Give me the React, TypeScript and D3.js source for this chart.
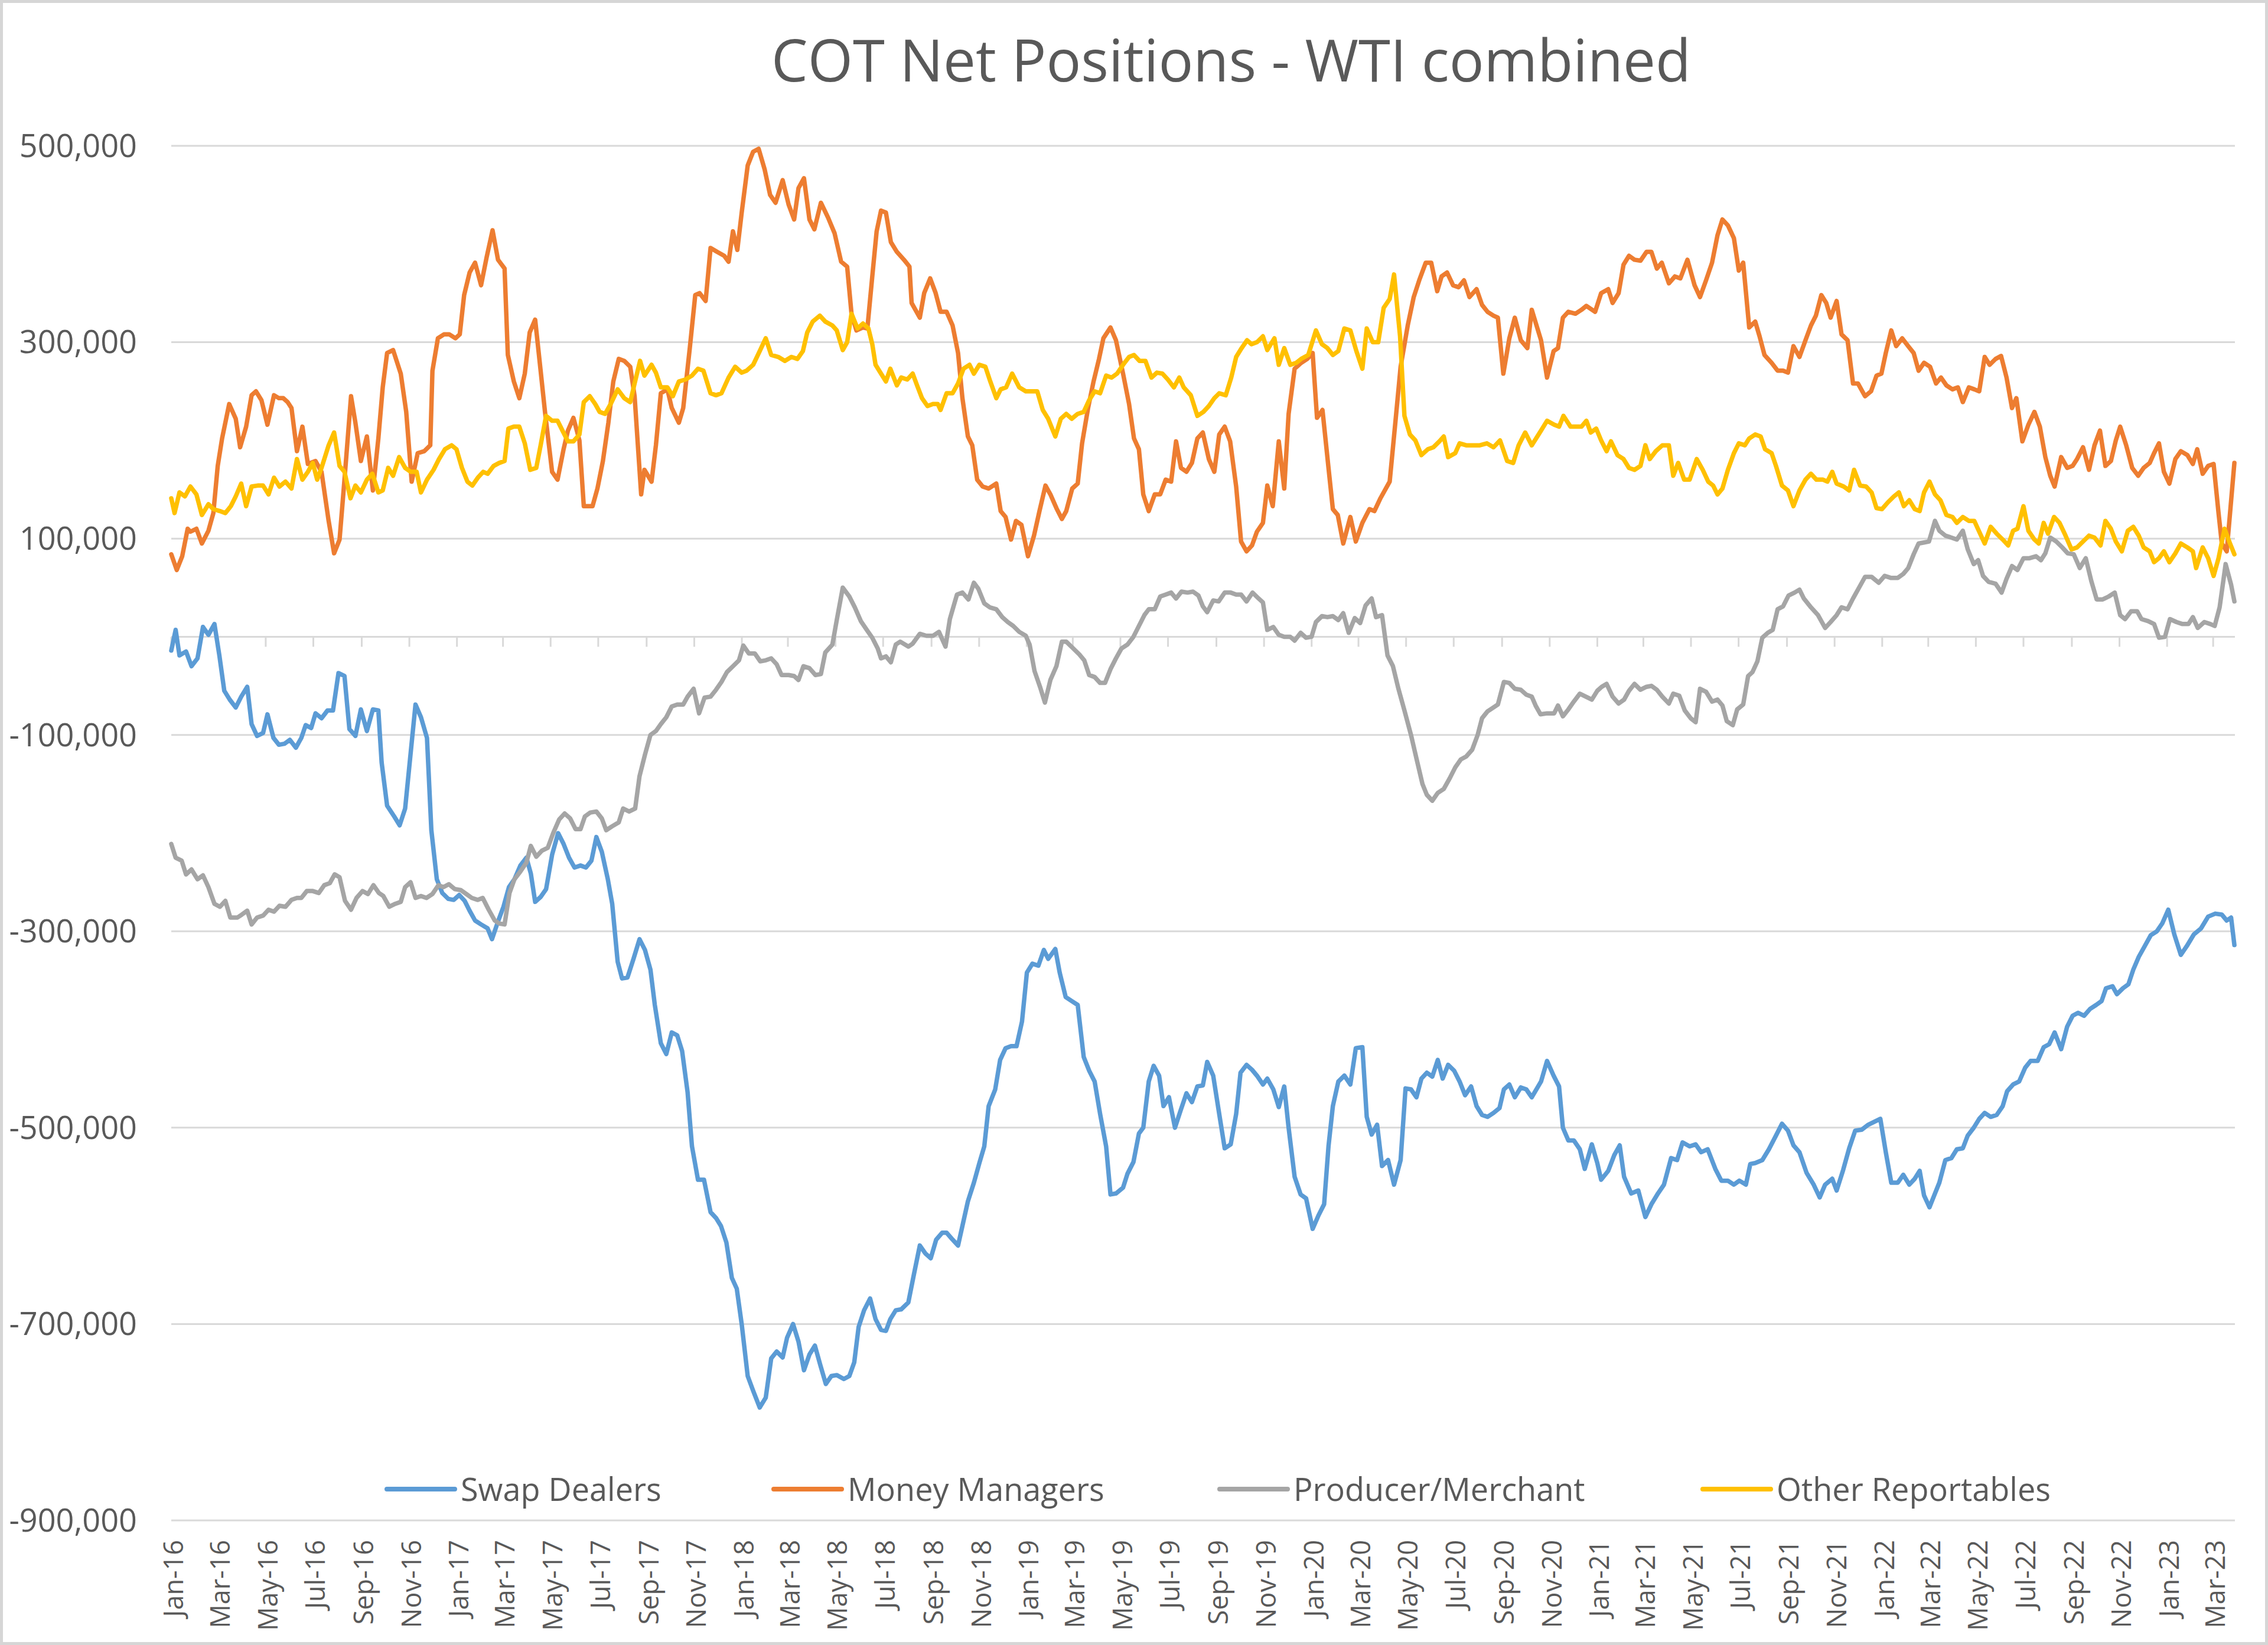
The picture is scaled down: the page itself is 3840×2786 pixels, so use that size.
import React from 'react';
import * as d3 from 'd3';

// ---- Data (values in thousands of contracts, x = weeks since 2016-01-05) ----
const seriesNames = ['Swap Dealers', 'Money Managers', 'Producer/Merchant', 'Other Reportables'];
const seriesColors = ['#5B9BD5', '#ED7D31', '#A5A5A5', '#FFC000'];

const swapDealers: [number, number][] = [[0,-14],[0.8,7],[1.5,-19],[2.7,-15],[3.7,-30],[4.8,-22],[5.8,10],[6.8,2],[7.9,13],[8.8,-19],[9.7,-55],[10.7,-64],[11.8,-72],[12.8,-61],[13.9,-51],[14.7,-89],[15.7,-101],[16.8,-98],[17.6,-79],[18.7,-103],[19.7,-110],[20.7,-109],[21.7,-105],[22.8,-113],[23.8,-103],[24.6,-90],[25.6,-93],[26.4,-78],[27.5,-83],[28.6,-75],[29.6,-75],[30.6,-37],[31.7,-40],[32.6,-94],[33.7,-101],[34.7,-74],[35.8,-96],[36.9,-74],[37.9,-75],[38.5,-128],[39.5,-172],[40.8,-183],[41.8,-192],[42.8,-175],[43.8,-119],[44.7,-69],[45.7,-82],[46.8,-103],[47.6,-197],[48.6,-247],[49.6,-261],[50.7,-267],[51.7,-268],[52.7,-263],[53.7,-269],[54.6,-279],[55.6,-289],[56.7,-293],[57.9,-297],[58.7,-308],[59.8,-290],[60.8,-275],[61.8,-255],[62.8,-247],[63.9,-233],[65,-225],[65.8,-241],[66.6,-270],[67.6,-265],[68.6,-257],[69.7,-222],[70.8,-200],[71.8,-211],[72.8,-225],[73.8,-235],[74.9,-233],[75.9,-235],[76.9,-228],[77.8,-204],[78.8,-219],[79.9,-247],[80.7,-272],[81.7,-331],[82.5,-348],[83.5,-347],[84.6,-328],[85.7,-308],[86.7,-319],[87.7,-339],[88.5,-375],[89.6,-414],[90.6,-425],[91.6,-403],[92.6,-406],[93.5,-422],[94.5,-464],[95.3,-519],[96.4,-553],[97.5,-553],[98.7,-586],[99.7,-592],[100.6,-600],[101.6,-617],[102.6,-653],[103.5,-664],[104.4,-700],[105.5,-753],[106.5,-768],[107.7,-785],[108.8,-775],[109.8,-735],[110.8,-728],[111.9,-734],[112.7,-714],[113.8,-700],[114.8,-718],[115.8,-747],[116.8,-731],[117.8,-722],[118.8,-742],[119.8,-761],[120.8,-753],[121.8,-752],[123.1,-756],[124.1,-753],[125,-739],[125.8,-703],[126.8,-686],[127.9,-674],[128.9,-695],[129.9,-706],[130.8,-707],[131.6,-695],[132.6,-686],[133.6,-685],[134.9,-678],[135.9,-650],[137,-620],[138,-628],[139,-633],[140,-614],[141.1,-607],[141.9,-607],[143,-614],[144,-620],[144.8,-600],[145.8,-575],[146.9,-556],[147.9,-536],[148.8,-519],[149.6,-478],[150.8,-461],[151.7,-431],[152.7,-419],[153.7,-417],[154.7,-417],[155.7,-392],[156.6,-342],[157.6,-333],[158.7,-335],[159.7,-319],[160.5,-328],[161.8,-318],[162.6,-342],[163.7,-367],[164.8,-371],[165.9,-375],[167,-428],[168,-442],[169,-453],[170,-486],[171.1,-519],[171.9,-568],[172.9,-567],[174.2,-561],[175,-547],[176.1,-535],[177.1,-506],[177.9,-500],[178.9,-453],[179.8,-437],[180.8,-447],[181.6,-478],[182.6,-469],[183.7,-500],[184.7,-483],[185.8,-465],[186.8,-474],[187.8,-458],[188.8,-457],[189.6,-433],[190.7,-447],[191.8,-486],[192.8,-521],[193.9,-517],[194.9,-486],[195.7,-444],[196.8,-436],[197.8,-441],[198.7,-447],[199.8,-456],[200.6,-450],[201.7,-461],[202.7,-479],[203.7,-458],[204.5,-500],[205.6,-550],[206.7,-568],[207.7,-572],[208.9,-603],[210,-589],[211,-578],[211.8,-519],[212.6,-478],[213.6,-453],[214.7,-447],[215.8,-456],[216.8,-419],[218,-418],[218.8,-489],[219.7,-507],[220.7,-497],[221.6,-539],[222.7,-533],[223.8,-558],[225,-533],[225.9,-460],[226.9,-461],[227.9,-469],[228.8,-450],[229.8,-444],[230.8,-448],[231.8,-431],[232.7,-450],[233.7,-436],[234.8,-442],[235.8,-453],[236.8,-467],[237.9,-458],[238.9,-478],[239.9,-487],[240.9,-489],[242,-485],[243.1,-480],[243.9,-461],[244.9,-456],[245.9,-469],[247,-459],[248,-461],[249,-469],[250.7,-453],[251.8,-432],[253,-447],[254,-458],[254.7,-500],[255.7,-513],[256.7,-513],[257.8,-522],[258.7,-542],[260,-517],[261,-536],[261.7,-553],[263,-544],[264.1,-528],[265.1,-518],[265.9,-550],[267.2,-567],[268.5,-564],[269.8,-591],[270.9,-578],[272.1,-567],[273.2,-558],[274.5,-531],[275.6,-533],[276.6,-515],[277.9,-519],[279,-517],[280,-525],[281.2,-522],[282.6,-542],[283.7,-554],[284.9,-554],[286,-558],[287,-554],[288.2,-558],[289,-537],[289.9,-536],[291.2,-533],[292.4,-522],[293.7,-508],[294.8,-496],[295.9,-503],[296.9,-518],[298,-525],[299.3,-546],[300.6,-558],[301.7,-571],[302.7,-558],[304,-552],[304.8,-564],[306,-543],[307.1,-521],[308.2,-503],[309.4,-502],[310.6,-497],[311.7,-494],[312.8,-491],[313.8,-525],[314.8,-556],[316,-556],[317,-548],[318.1,-558],[319.1,-552],[320,-544],[320.8,-569],[321.8,-581],[322.8,-567],[323.6,-556],[324.7,-533],[325.8,-531],[326.8,-522],[327.9,-521],[328.8,-508],[329.9,-500],[330.9,-491],[331.9,-485],[333,-489],[334.1,-487],[335.2,-478],[336,-463],[337.1,-456],[338.2,-453],[339.3,-439],[340.3,-432],[341.6,-432],[342.7,-418],[343.7,-415],[344.7,-403],[345.9,-420],[347,-397],[348,-386],[349,-383],[350.1,-386],[351.2,-379],[352.3,-375],[353.3,-371],[354.1,-358],[355.3,-356],[356.1,-364],[357.2,-358],[358.2,-354],[359.1,-339],[360.1,-326],[361.2,-315],[362.3,-304],[363.4,-300],[364.4,-292],[365.5,-278],[366.6,-303],[367.8,-324],[368.9,-315],[370.2,-303],[371.5,-297],[372.8,-285],[374.1,-282],[375.3,-283],[376.2,-289],[377,-286],[377.6,-314]];

const moneyManagers: [number, number][] = [[0,84],[1,68],[2,82],[3,110],[3.5,107],[4.6,110],[5.6,95],[6.8,108],[7.7,126],[8.5,174],[9.3,202],[10.6,237],[11.8,222],[12.6,193],[13.7,214],[14.7,246],[15.5,250],[16.5,241],[17.6,216],[18.8,246],[19.7,243],[20.5,243],[21.3,239],[22,233],[23,189],[24,214],[25,176],[26.4,179],[27.5,168],[28.8,118],[29.8,85],[30.8,99],[31.7,160],[32.9,245],[33.7,218],[34.7,179],[35.8,204],[36.9,149],[37.9,202],[38.7,254],[39.5,289],[40.6,292],[42,268],[43,229],[44,158],[45.1,187],[46.3,189],[47.4,195],[47.8,271],[48.8,304],[49.9,308],[50.9,308],[52,304],[52.8,308],[53.6,348],[54.6,371],[55.6,381],[56.7,358],[57.7,386],[58.8,414],[59.8,384],[61,375],[61.6,287],[62.7,260],[63.7,243],[64.7,268],[65.6,310],[66.6,323],[67.6,271],[68.4,229],[69.7,168],[70.7,160],[71.8,191],[72.6,210],[73.6,223],[74.7,200],[75.5,133],[76.3,133],[77.1,133],[78,151],[79,179],[80,218],[80.9,260],[81.9,283],[82.9,281],[84,275],[84.8,245],[85.4,195],[86,145],[86.6,170],[87.9,158],[88.7,195],[89.6,248],[90.8,252],[91.6,233],[92.9,218],[93.7,233],[94.9,294],[95.9,348],[96.7,350],[97.8,342],[98.7,396],[99.9,392],[101.2,388],[102,382],[102.8,413],[103.6,394],[104.4,432],[105.5,480],[106.5,494],[107.5,497],[108.6,476],[109.6,450],[110.6,442],[111.9,465],[113,440],[114,425],[114.8,457],[115.8,467],[116.8,425],[117.7,415],[118.9,442],[120.2,427],[121.4,411],[122.6,382],[123.7,377],[124.5,329],[125.4,312],[126.6,315],[127.4,314],[128.3,367],[129.1,413],[129.9,434],[130.8,432],[131.7,402],[132.8,392],[134.1,384],[135.1,377],[135.5,340],[137,325],[137.8,350],[138.9,365],[139.9,350],[140.8,331],[141.9,331],[143,317],[144,289],[144.8,243],[145.8,204],[146.6,195],[147.5,160],[148.5,153],[149.6,151],[151,156],[151.8,128],[152.7,122],[153.7,99],[154.6,118],[155.6,114],[156.8,82],[157.9,103],[158.9,128],[160,154],[160.9,145],[162,131],[163,120],[163.8,128],[164.9,151],[165.9,156],[166.7,197],[167.8,233],[168.8,260],[169.8,283],[170.6,304],[171.9,315],[172.9,302],[174.2,268],[175.3,237],[176.2,202],[177.1,191],[177.9,145],[178.9,128],[180,145],[181,145],[182,160],[183,158],[183.9,199],[184.8,172],[185.8,168],[186.8,177],[187.8,202],[188.8,208],[189.9,181],[190.9,168],[191.8,206],[192.8,214],[193.8,199],[194.9,153],[195.8,97],[196.8,87],[197.8,93],[198.7,107],[199.8,116],[200.6,154],[201.6,133],[202.7,199],[203.7,151],[204.5,227],[205.6,273],[206.8,279],[207.9,283],[208.9,289],[209.7,223],[210.7,231],[211.8,172],[212.6,130],[213.5,124],[214.5,95],[215.8,122],[216.8,97],[218,116],[219.3,130],[220.2,128],[221.3,141],[223,158],[224.1,222],[225,275],[226.3,317],[227.4,346],[228.4,363],[229.6,381],[230.6,381],[231.7,352],[232.5,367],[233.5,371],[234.6,358],[235.6,356],[236.6,363],[237.6,346],[238.9,354],[239.9,338],[240.9,331],[242,327],[242.8,325],[243.8,268],[244.9,304],[245.9,325],[247,302],[248.2,294],[249,333],[250.7,302],[251.8,264],[253,291],[253.8,294],[254.7,325],[255.7,331],[257,329],[258.1,333],[259,337],[260.6,331],[261.7,350],[263,354],[263.8,340],[264.9,350],[265.8,379],[266.8,388],[267.8,384],[268.9,383],[270,392],[270.9,392],[271.9,375],[272.8,381],[274.1,360],[275.2,367],[276.2,365],[277.5,384],[278.8,358],[279.8,346],[280.9,363],[282,381],[283,409],[283.9,425],[284.9,419],[286,406],[286.9,373],[287.7,381],[288.8,315],[289.9,321],[290.7,306],[291.6,287],[292.9,279],[294,271],[295,271],[295.9,269],[296.9,296],[298,285],[299.1,302],[300.1,317],[301,327],[302,348],[302.9,340],[303.7,325],[304.8,342],[305.7,308],[306.8,302],[307.8,258],[308.7,258],[310,245],[311.1,250],[312.1,266],[313,268],[313.8,289],[314.8,312],[315.7,296],[316.8,304],[317.9,296],[318.9,289],[319.8,271],[320.8,279],[321.9,275],[323,258],[323.9,264],[324.9,256],[326,252],[327,254],[327.9,239],[329,254],[330,252],[330.9,250],[331.9,285],[332.8,277],[333.9,283],[334.9,286],[335.9,264],[336.9,233],[337.7,243],[338.8,199],[339.9,216],[341,229],[342,214],[343,183],[343.9,164],[344.7,153],[345.9,183],[347,172],[348,174],[348.8,181],[349.9,193],[351,170],[352,195],[353,210],[354,174],[355,179],[355.9,200],[356.7,214],[357.8,195],[358.9,172],[360,164],[361,172],[362.1,177],[362.9,187],[363.8,197],[364.7,168],[365.7,156],[366.8,181],[367.8,189],[369,185],[370,176],[370.8,191],[371.8,166],[372.8,174],[373.8,176],[374.7,126],[375.3,95],[376.2,87],[377.6,177]];

const producerMerchant: [number, number][] = [[0,-211],[0.8,-225],[1.9,-228],[2.7,-242],[3.7,-237],[4.8,-247],[5.8,-243],[6.8,-255],[7.9,-272],[8.9,-275],[9.9,-269],[10.8,-286],[12.1,-286],[12.9,-283],[13.9,-279],[14.7,-293],[15.7,-286],[16.8,-284],[17.8,-278],[18.8,-280],[19.8,-274],[20.9,-275],[22,-268],[23,-266],[23.8,-266],[24.8,-259],[25.9,-259],[27,-261],[28,-253],[29,-251],[29.9,-242],[30.8,-245],[31.8,-269],[32.9,-278],[33.9,-266],[35,-259],[36,-262],[37,-253],[38,-261],[38.8,-264],[39.9,-275],[41,-272],[42,-270],[42.8,-255],[43.8,-250],[44.7,-266],[45.7,-264],[46.7,-266],[47.8,-262],[48.9,-253],[49.8,-255],[50.8,-252],[51.9,-257],[53,-258],[54,-262],[55,-266],[56.1,-268],[57,-266],[58.1,-278],[59.2,-289],[60,-292],[61,-293],[61.9,-261],[62.8,-247],[63.9,-239],[65,-230],[65.8,-213],[66.8,-224],[67.8,-218],[68.9,-215],[69.9,-200],[71,-186],[72,-180],[73,-185],[74,-196],[74.9,-196],[75.7,-183],[76.7,-179],[77.8,-178],[78.8,-185],[79.6,-197],[80.7,-193],[81.9,-189],[82.7,-175],[83.8,-178],[84.9,-175],[85.7,-142],[86.7,-120],[87.7,-100],[88.7,-96],[89.6,-89],[90.6,-82],[91.6,-71],[92.6,-69],[93.7,-69],[94.5,-61],[95.6,-53],[96.6,-78],[97.6,-62],[98.7,-61],[99.7,-54],[100.7,-46],[101.7,-36],[102.8,-30],[103.9,-24],[104.7,-9],[105.7,-17],[106.8,-17],[107.8,-25],[108.8,-24],[109.8,-22],[110.8,-28],[111.7,-39],[113,-39],[114,-40],[114.8,-44],[115.7,-30],[116.8,-32],[117.9,-39],[118.9,-38],[119.7,-16],[121,-8],[121.8,17],[122.9,50],[124.1,41],[125.1,30],[126.2,16],[127.3,7],[128.3,-1],[129.3,-12],[129.9,-22],[130.8,-20],[131.7,-26],[132.6,-8],[133.4,-5],[134.9,-10],[135.7,-7],[137,3],[138.2,1],[139.4,1],[140.5,5],[141.7,-10],[142.5,18],[143.8,43],[144.8,45],[145.9,38],[146.9,55],[147.7,49],[148.8,34],[149.8,30],[151,28],[152.1,20],[153.1,15],[154.1,11],[155.2,5],[156.4,1],[157.1,-8],[158,-35],[159,-51],[159.9,-67],[160.9,-44],[162,-30],[163,-5],[163.8,-5],[165.1,-12],[166.2,-18],[167.1,-24],[168,-39],[169,-41],[170,-47],[170.9,-47],[171.9,-33],[172.9,-22],[173.9,-12],[175,-8],[176.1,0],[177.1,11],[178.1,22],[178.9,28],[180,28],[181,41],[182,43],[183,45],[183.9,39],[184.9,46],[186,45],[187,46],[188,42],[188.8,31],[189.6,25],[190.7,37],[191.7,36],[192.8,45],[193.9,45],[194.9,43],[195.8,43],[196.8,36],[197.9,45],[199,39],[199.8,35],[200.6,7],[201.7,10],[202.7,2],[203.7,0],[204.8,0],[205.6,-4],[206.7,4],[207.7,-1],[208.7,0],[209.5,15],[210.6,21],[211.6,20],[212.6,21],[213.6,17],[214.5,24],[215.5,4],[216.6,19],[217.6,14],[218.6,32],[219.7,39],[220.5,20],[221.6,22],[222.6,-19],[223.6,-30],[224.6,-53],[225.7,-75],[226.9,-100],[227.9,-124],[229,-150],[229.8,-161],[230.8,-167],[231.8,-159],[232.9,-155],[234,-144],[235,-133],[236,-125],[237,-122],[238.1,-115],[239.1,-100],[239.9,-83],[240.9,-76],[242,-72],[242.8,-69],[243.9,-46],[244.9,-47],[245.9,-53],[247,-54],[248,-59],[249,-61],[249.7,-70],[250.6,-79],[251.8,-78],[253.1,-78],[253.8,-70],[254.7,-81],[255.7,-74],[256.7,-66],[257.8,-58],[258.9,-61],[260,-64],[261,-55],[261.8,-51],[262.7,-48],[263.8,-61],[264.9,-68],[265.9,-64],[266.8,-55],[267.8,-48],[268.9,-54],[270,-51],[270.9,-50],[271.9,-54],[272.9,-61],[274.1,-68],[274.9,-58],[276,-60],[277,-75],[278.1,-83],[279,-87],[279.8,-53],[280.9,-56],[282,-66],[283,-64],[283.9,-70],[284.7,-86],[285.8,-90],[286.6,-74],[287.7,-69],[288.6,-40],[289.4,-36],[290.3,-25],[291.2,-1],[292.2,4],[293.1,7],[294,28],[295,31],[296,42],[297.1,45],[298,48],[298.8,39],[300.1,30],[301.4,22],[302.7,9],[303.7,15],[304.8,22],[305.7,30],[306.8,28],[307.8,39],[308.8,49],[310,61],[311.2,61],[312.5,55],[313.6,62],[314.7,60],[316,60],[317,64],[317.9,70],[318.9,84],[319.8,95],[320.8,96],[321.7,97],[322.8,118],[323.6,108],[324.7,103],[325.8,101],[326.8,99],[327.9,108],[328.8,89],[329.9,74],[330.7,78],[331.6,62],[332.6,56],[333.9,54],[335,45],[335.9,59],[336.9,72],[337.9,68],[339,80],[340.1,80],[341.3,82],[342.2,78],[343,85],[343.9,101],[345,97],[346.1,91],[347.1,85],[348.2,84],[349.3,70],[350.4,80],[351.4,57],[352.4,38],[353.5,38],[354.6,41],[355.7,45],[356.7,22],[357.6,18],[358.7,26],[359.8,26],[360.6,18],[361.8,16],[362.9,13],[363.8,-1],[364.9,0],[365.8,18],[367,15],[368.1,13],[369.2,13],[370,20],[370.9,9],[372.1,15],[373.2,13],[374,11],[374.9,30],[376,74],[377,53],[377.6,36]];

const otherReportables: [number, number][] = [[0,141],[0.6,126],[1.5,147],[2.5,143],[3.5,153],[4.6,145],[5.6,124],[6.8,135],[7.7,130],[8.9,128],[9.9,126],[10.9,133],[11.8,143],[12.8,156],[13.7,133],[14.7,153],[15.8,154],[16.8,154],[17.8,145],[18.8,162],[19.8,153],[20.9,158],[22,151],[23,181],[24,160],[25,168],[25.9,177],[26.7,160],[27.5,172],[28.8,195],[29.8,208],[30.8,174],[31.7,168],[32.8,141],[33.7,154],[34.7,147],[35.8,160],[36.8,166],[37.9,147],[38.7,149],[39.7,172],[40.6,164],[41.7,183],[42.8,172],[43.8,168],[44.9,168],[45.7,147],[46.8,160],[48,170],[49,181],[50.1,191],[51.3,195],[52.2,191],[53.2,172],[54.2,158],[55.1,154],[56.1,162],[57.1,168],[57.9,166],[59,174],[60,177],[61,179],[61.7,212],[62.7,214],[63.7,214],[64.7,197],[65.7,170],[66.8,172],[67.6,195],[68.6,225],[69.7,220],[70.7,220],[71.6,210],[72.6,199],[73.6,199],[74.7,206],[75.5,239],[76.6,245],[77.6,237],[78.4,229],[79.4,227],[80.6,239],[81.7,252],[82.9,243],[84,239],[84.8,258],[85.8,281],[86.6,266],[87.9,277],[88.7,269],[89.6,254],[90.8,254],[91.8,245],[92.9,260],[94.1,262],[95.3,266],[96.4,273],[97.4,271],[98.7,248],[99.7,246],[100.7,248],[102,264],[103.2,275],[104.4,269],[105.3,271],[106.5,277],[107.7,291],[108.8,304],[109.8,287],[111.1,285],[112.3,281],[113.5,285],[114.6,283],[115.6,291],[116.4,310],[117.4,321],[118.7,327],[119.7,321],[121,317],[121.8,312],[122.9,292],[123.7,300],[124.5,329],[125.6,314],[126.6,319],[127.6,314],[128.3,298],[128.9,277],[129.9,268],[130.8,260],[131.6,273],[132.8,256],[133.6,264],[134.7,262],[135.7,268],[136.5,256],[137.4,243],[138.4,235],[139.4,237],[140.3,237],[140.8,231],[141.9,248],[143,248],[144,258],[145,273],[146.1,277],[146.9,268],[147.9,277],[149,275],[149.9,260],[151,243],[151.8,252],[152.8,254],[153.9,268],[155.2,254],[156.4,250],[157.4,250],[158.5,250],[159.5,231],[160.5,222],[161.8,204],[162.8,222],[163.8,227],[164.8,222],[165.9,227],[167,229],[168,241],[169,250],[170,248],[171.1,266],[172.1,264],[173.1,268],[174.2,277],[175.3,285],[176.2,287],[177.2,281],[178.3,281],[179.4,264],[180.4,269],[181.4,268],[182.4,262],[183.5,254],[184.5,264],[185.3,254],[186.6,246],[187.8,225],[188.9,229],[189.9,235],[190.9,243],[191.8,248],[193,246],[194,264],[194.9,285],[195.9,294],[196.9,302],[197.7,298],[198.7,300],[199.8,306],[200.6,292],[201.9,304],[202.7,277],[203.7,294],[204.8,277],[205.9,279],[206.8,283],[208.1,287],[209.5,312],[210.6,298],[211.6,294],[212.6,287],[213.6,291],[214.7,314],[215.8,312],[216.9,291],[218,273],[218.8,314],[219.9,300],[220.9,300],[221.9,335],[223,344],[223.8,369],[224.9,306],[225.7,225],[226.7,206],[227.7,200],[228.8,185],[230,191],[231,193],[232.1,199],[232.9,204],[233.7,183],[235,187],[235.8,197],[237,195],[238.3,195],[239.5,195],[240.8,197],[242,193],[243.2,200],[244.5,179],[245.6,177],[246.6,195],[247.8,208],[249,195],[250.7,210],[251.8,220],[253.1,216],[254,214],[254.8,225],[256.1,214],[257.2,214],[258.1,214],[259,220],[259.8,208],[260.8,212],[261.7,200],[262.7,189],[263.5,199],[264.7,185],[265.8,181],[266.8,172],[267.8,170],[268.9,174],[269.8,195],[270.6,181],[271.7,189],[272.9,195],[274.1,195],[274.9,164],[275.8,177],[276.9,160],[277.9,160],[279.2,181],[280.3,170],[281.3,158],[282.2,154],[283,145],[283.9,151],[284.9,170],[286,187],[286.9,197],[288,195],[288.8,202],[289.9,206],[290.9,204],[291.7,191],[292.9,187],[293.7,174],[294.8,154],[295.9,149],[296.9,133],[298,149],[299.1,160],[300.1,166],[301.1,160],[302.3,160],[303.1,158],[304,168],[304.8,156],[306.1,153],[307.1,149],[308,170],[309.1,154],[310.2,153],[311.2,147],[312.1,131],[313.1,130],[314.2,137],[315.3,143],[316.2,147],[317.1,133],[318.1,139],[319.1,130],[320,128],[320.8,147],[321.8,158],[322.8,145],[323.8,139],[324.9,124],[326,122],[326.8,116],[327.9,122],[329,118],[330,118],[330.9,107],[331.9,95],[333,112],[334.1,105],[335.2,99],[336.2,93],[337.1,108],[337.9,110],[339,133],[339.9,108],[341,99],[341.8,95],[342.7,116],[343.5,105],[344.6,122],[345.6,116],[346.7,103],[347.8,89],[348.8,91],[349.9,97],[351,103],[352,101],[353.1,93],[354,118],[355,110],[355.9,97],[357,87],[358.1,108],[359.1,112],[360.1,103],[361,91],[362.1,87],[362.9,76],[363.8,80],[364.7,87],[365.7,76],[366.8,85],[367.8,95],[369,91],[370,87],[370.6,70],[371.8,91],[372.8,80],[373.8,62],[374.7,80],[375.8,110],[376.8,95],[377.6,84]];

const allSeries = [swapDealers, moneyManagers, producerMerchant, otherReportables];

const yTickValues = [-900000, -700000, -500000, -300000, -100000, 100000, 300000, 500000];
const xTickMonthOffsets = d3.range(0, 87, 2); // Jan-16 ... Mar-23, every 2 months
const TITLE = 'COT Net Positions - WTI combined';

const START = new Date(2016, 0, 5);
const weekToDate = (w: number) => new Date(START.getTime() + w * 7 * 86400000);

const fmtY = d3.formatLocale({ decimal: '.', thousands: ',', grouping: [3], currency: ['$', ''], minus: '-' }).format(',');
const fmtX = d3.timeFormat('%b-%y');

export default function App() {
  const W = 3840, H = 2786;
  const left = 290, right = 3784, top = 247, bottom = 2575;
  const x = d3.scaleTime().domain([START, weekToDate(377.7)]).range([left, right]);
  const y = d3.scaleLinear().domain([-900000, 500000]).range([bottom, top]);
  const line = d3.line<[number, number]>()
    .x(d => x(weekToDate(d[0])))
    .y(d => y(d[1] * 1000));
  const xTicks = xTickMonthOffsets.map(m => new Date(2016, m, 5));
  const y0 = y(0);
  const font = "'Open Sans', 'Noto Sans', sans-serif";
  const textColor = '#595959';
  const grid = '#d9d9d9';

  const legendX = [655, 1310, 2065, 2883];
  const legendY = 2522;

  return (
    <svg width={W} height={H} style={{ position: 'absolute', left: 0, top: 0, background: '#fff' }} fontFamily={font}>
      <rect x={0} y={0} width={W} height={H} fill="#fff" />
      <rect x={2.5} y={2.5} width={W - 5} height={H - 5} fill="none" stroke="#d6d6d6" strokeWidth={5} />
      <text x={1306} y={138} fontSize={98} fill={textColor} textLength={1557} lengthAdjust="spacingAndGlyphs">{TITLE}</text>

      {yTickValues.map(v => (
        <g key={v}>
          <line x1={left} x2={right} y1={y(v)} y2={y(v)} stroke={grid} strokeWidth={3} />
          <text x={232} y={y(v)} dy="0.35em" textAnchor="end" fontSize={54} fill={textColor}>{fmtY(v)}</text>
        </g>
      ))}
      <line x1={left} x2={right} y1={y0} y2={y0} stroke={grid} strokeWidth={3} />
      {xTicks.map((d, i) => (
        <g key={i}>
          <line x1={x(d)} x2={x(d)} y1={y0} y2={y0 + 17} stroke={grid} strokeWidth={3} />
          <text transform={`translate(${x(d) + 4},2608) rotate(-90)`} dy="0.35em" textAnchor="end" fontSize={45} fill={textColor}>{fmtX(d)}</text>
        </g>
      ))}

      {allSeries.map((s, i) => (
        <path key={i} d={line(s) || ''} fill="none" stroke={seriesColors[i]} strokeWidth={7.5} strokeLinejoin="round" strokeLinecap="round" />
      ))}

      {seriesNames.map((n, i) => (
        <g key={n}>
          <line x1={legendX[i]} x2={legendX[i] + 115} y1={legendY} y2={legendY} stroke={seriesColors[i]} strokeWidth={8} strokeLinecap="round" />
          <text x={legendX[i] + 125} y={legendY + 20} fontSize={54} fill={textColor}>{n}</text>
        </g>
      ))}
    </svg>
  );
}
